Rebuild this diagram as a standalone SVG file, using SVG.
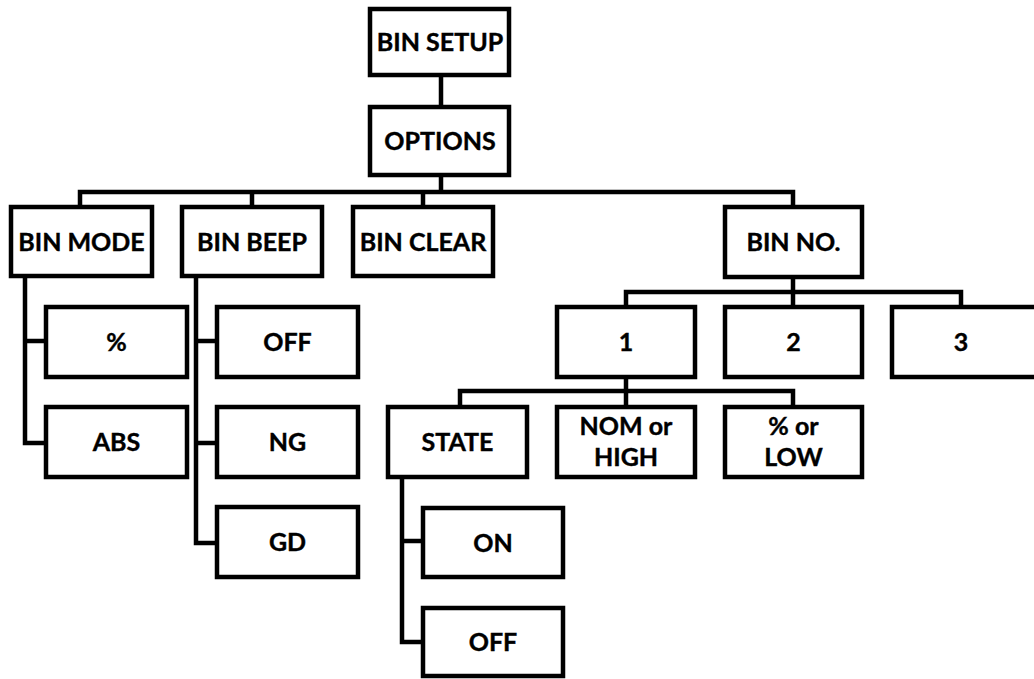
<svg xmlns="http://www.w3.org/2000/svg" width="1034" height="679" viewBox="0 0 1034 679">
<style>
rect{fill:#fff;stroke:#000;stroke-width:4.5}
text{font-family:Lato,"Liberation Sans",sans-serif;font-weight:bold;font-size:25px;text-anchor:middle;fill:#000;stroke:#000;stroke-width:0.4}
.c{fill:none;stroke:#000;stroke-width:4.5}
</style>
<rect x="0" y="0" width="1034" height="679" style="stroke:none"/>
<g id="connectors">
<path class="c" d="M441 75V107M441 175V192M80 207V192H793V207M252 192V207M423 192V207"/>
<path class="c" d="M793 277V292M626 307V292H961V307M793 292V307"/>
<path class="c" d="M626 377V391M460 407V391H793V407M626 391V407"/>
<path class="c" d="M25 276V443H46M25 341H46"/>
<path class="c" d="M196 276V543H217M196 341H217M196 443H217"/>
<path class="c" d="M402 477V642H423M402 541H423"/>
</g>
<g id="bin-setup"><rect x="370" y="9" width="139" height="66"/><text x="440" y="51">BIN SETUP</text></g>
<g id="options"><rect x="370" y="107" width="139" height="68"/><text x="440" y="150">OPTIONS</text></g>
<g id="bin-mode"><rect x="11" y="207" width="141" height="69"/><text x="81.5" y="250.5">BIN MODE</text></g>
<g id="bin-beep"><rect x="182" y="207" width="140" height="69"/><text x="252" y="250.5">BIN BEEP</text></g>
<g id="bin-clear"><rect x="353" y="207" width="140" height="69"/><text x="423" y="250.5">BIN CLEAR</text></g>
<g id="bin-no"><rect x="725" y="207" width="137" height="70"/><text x="793.5" y="251">BIN NO.</text></g>
<g id="n1"><rect x="557" y="307" width="138" height="70"/><text x="626" y="351">1</text></g>
<g id="n2"><rect x="725" y="307" width="137" height="70"/><text x="793.5" y="351">2</text></g>
<g id="n3"><rect x="892" y="307" width="146" height="70"/><text x="961" y="351">3</text></g>
<g id="pct"><rect x="46" y="307" width="141" height="70"/><text x="116.5" y="351">%</text></g>
<g id="abs"><rect x="46" y="407" width="141" height="70"/><text x="116.5" y="451">ABS</text></g>
<g id="beep-off"><rect x="217" y="307" width="141" height="70"/><text x="287.5" y="351">OFF</text></g>
<g id="ng"><rect x="217" y="407" width="141" height="70"/><text x="287.5" y="451">NG</text></g>
<g id="gd"><rect x="217" y="507" width="141" height="70"/><text x="287.5" y="551">GD</text></g>
<g id="state"><rect x="388" y="407" width="139" height="70"/><text x="457.5" y="451">STATE</text></g>
<g id="nom-high"><rect x="557" y="407" width="138" height="70"/><text x="626" y="435">NOM or</text><text x="626" y="466">HIGH</text></g>
<g id="pct-low"><rect x="725" y="407" width="137" height="70"/><text x="793.5" y="435">% or</text><text x="793.5" y="466">LOW</text></g>
<g id="state-on"><rect x="423" y="508" width="140" height="69"/><text x="493" y="551.5">ON</text></g>
<g id="state-off"><rect x="423" y="608" width="140" height="68"/><text x="493" y="651">OFF</text></g>
</svg>
